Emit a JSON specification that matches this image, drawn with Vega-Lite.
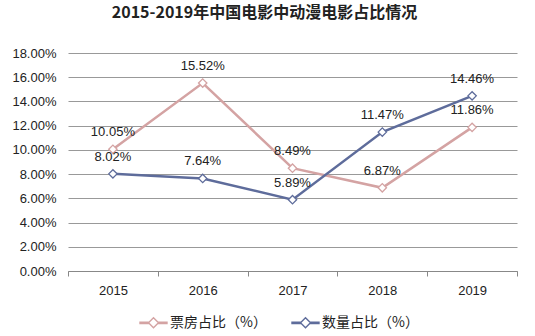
{
  "$schema": "https://vega.github.io/schema/vega-lite/v6.json",
  "width": 449,
  "height": 218,
  "autosize": {"type": "none"},
  "padding": {"left": 68, "top": 53, "right": 18, "bottom": 65},
  "background": "white",
  "title": {
    "text": "2015-2019年中国电影中动漫电影占比情况",
    "font": "Noto Sans CJK SC",
    "fontSize": 16,
    "fontWeight": "bold",
    "color": "#222222",
    "offset": 26,
    "dx": -28
  },
  "config": {
    "view": {"stroke": null},
    "font": "Liberation Sans"
  },
  "data": {
    "values": [
      {"year": "2015", "series": "票房占比（%）", "value": 0.1005},
      {"year": "2016", "series": "票房占比（%）", "value": 0.1552},
      {"year": "2017", "series": "票房占比（%）", "value": 0.0849},
      {"year": "2018", "series": "票房占比（%）", "value": 0.0687},
      {"year": "2019", "series": "票房占比（%）", "value": 0.1186},
      {"year": "2015", "series": "数量占比（%）", "value": 0.0802},
      {"year": "2016", "series": "数量占比（%）", "value": 0.0764},
      {"year": "2017", "series": "数量占比（%）", "value": 0.0589},
      {"year": "2018", "series": "数量占比（%）", "value": 0.1147},
      {"year": "2019", "series": "数量占比（%）", "value": 0.1446}
    ]
  },
  "encoding": {
    "x": {
      "field": "year",
      "type": "ordinal",
      "bandPosition": 0.5,
      "scale": {"type": "band", "paddingInner": 0, "paddingOuter": 0},
      "axis": {
        "title": null,
        "labelAngle": 0,
        "labelFontSize": 13,
        "labelColor": "#222222",
        "labelPadding": 8,
        "domainColor": "#888888",
        "tickColor": "#888888",
        "tickSize": 5,
        "tickBand": "extent",
        "grid": false
      }
    },
    "y": {
      "field": "value",
      "type": "quantitative",
      "scale": {"domain": [0, 0.18]},
      "axis": {
        "title": null,
        "format": ".2%",
        "values": [0, 0.02, 0.04, 0.06, 0.08, 0.1, 0.12, 0.14, 0.16, 0.18],
        "labelFontSize": 13,
        "labelColor": "#222222",
        "labelPadding": 12,
        "ticks": false,
        "domain": false,
        "gridColor": "#999999",
        "gridWidth": 1
      }
    },
    "color": {
      "field": "series",
      "type": "nominal",
      "scale": {"domain": ["票房占比（%）", "数量占比（%）"], "range": ["#D4A3A3", "#5E6C9B"]},
      "legend": {
        "title": null,
        "orient": "none",
        "direction": "horizontal",
        "legendX": 71,
        "legendY": 255,
        "labelFont": "Noto Sans CJK SC",
        "labelFontSize": 14,
        "labelColor": "#222222",
        "symbolType": "M-1,-0.05L-0.37,-0.05L-0.37,0.05L-1,0.05Z M0.37,-0.05L1,-0.05L1,0.05L0.37,0.05Z M-0.37,0L0,-0.37L0.37,0L0,0.37Z",
        "symbolSize": 729,
        "symbolStrokeWidth": 1.4,
        "columnPadding": 22,
        "labelOffset": 2,
        "encode": {"symbols": {"update": {"fill": {"value": "white"}, "fillOpacity": {"value": 1}, "strokeWidth": {"value": 1.4}}}}
      }
    }
  },
  "layer": [
    {
      "mark": {"type": "line", "strokeWidth": 2.5}
    },
    {
      "mark": {"type": "point", "shape": "diamond", "filled": false, "fill": "white", "size": 70, "strokeWidth": 1.3, "opacity": 1}
    },
    {
      "mark": {"type": "text", "dy": -17, "fontSize": 13, "color": "#222222", "baseline": "middle"},
      "encoding": {
        "text": {"field": "value", "type": "quantitative", "format": ".2%"},
        "color": {"value": "#222222"}
      }
    }
  ]
}
